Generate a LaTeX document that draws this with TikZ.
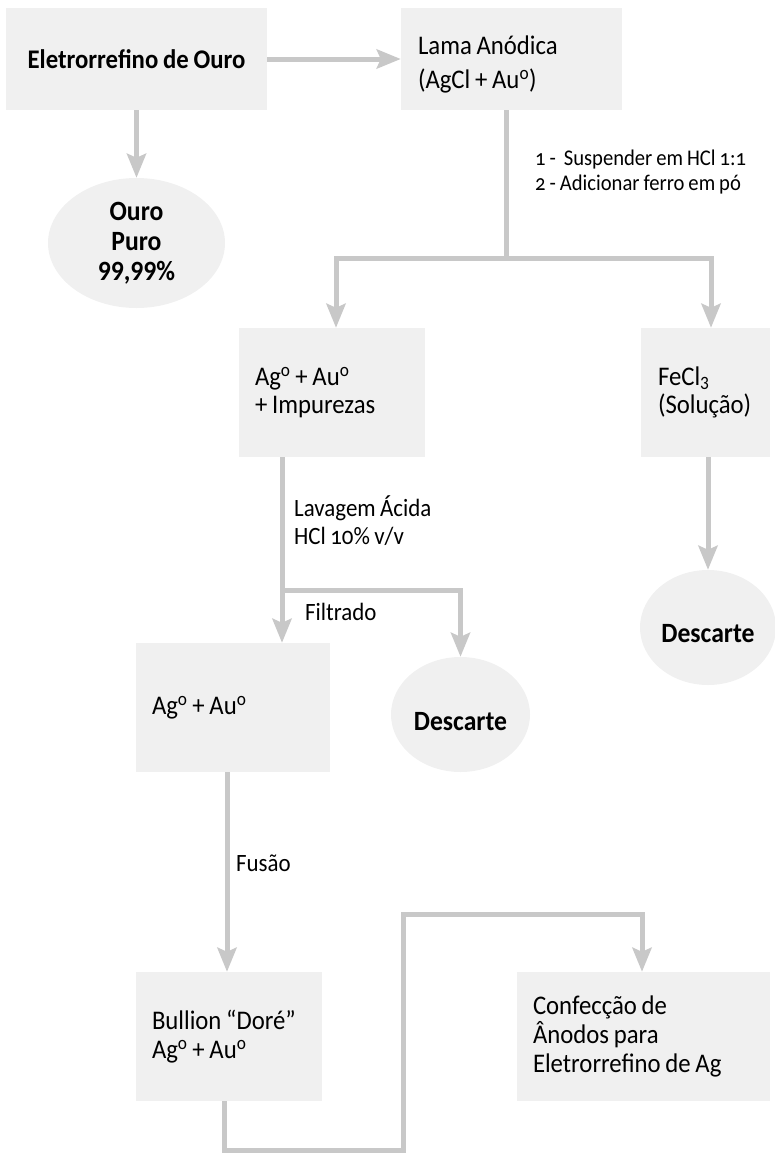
\documentclass[tikz,border=0pt]{standalone}
\usepackage{fontspec}
\setmainfont{Carlito}[FakeStretch=0.92, WordSpace=0.85]
\usetikzlibrary{arrows.meta,shapes.geometric}
\definecolor{boxfill}{HTML}{F0F0F0}
\definecolor{linegray}{HTML}{C8C8C8}
\lineskiplimit=-20pt
\begin{document}
\begin{tikzpicture}[x=1bp,y=-1bp,
  box/.style={fill=boxfill, draw=none, inner xsep=16bp, inner ysep=0pt, align=flush left,
    minimum height=129bp, font=\fontsize{27}{28.5}\selectfont},
  oval/.style={ellipse, fill=boxfill, draw=none, inner sep=0pt, align=flush center,
    font=\bfseries\fontsize{28}{30}\selectfont},
  lab/.style={anchor=west, inner sep=0pt, align=flush left,
    font=\fontsize{25}{28}\selectfont\addfontfeatures{Numbers=OldStyle}},
  conn/.style={draw=linegray, line width=5bp},
  arr/.style={conn, -{Stealth[length=24bp, width=19bp, inset=4bp]}}]
\useasboundingbox (0,0) rectangle (775,1154);

% boxes
\node[box, align=flush center, text width=229bp, minimum height=102bp,
  font=\bfseries\fontsize{27}{28}\selectfont] (b1) at (136.5,59) {Eletrorrefino de Ouro};
\node[box, text width=187bp, inner xsep=17bp, minimum height=102bp,
  font=\fontsize{27}{34}\selectfont] (b2) at (511.5,59) {\rule{0pt}{30bp}Lama Anódica\\(AgCl + Au\textsuperscript{o})};
\node[box, text width=154bp] (b3) at (332,392.5) {Ag\textsuperscript{o} + Au\textsuperscript{o}\\+ Impurezas};
\node[box, text width=95bp, inner xsep=17bp] (fe) at (705.5,392.5) {FeCl\textsubscript{3}\\(Solução)};
\node[box, text width=162bp] (b4) at (233,707.5) {Ag\textsuperscript{o} + Au\textsuperscript{o}};
\node[box, text width=154bp] (b5) at (229,1036.5) {Bullion “Doré”\\Ag\textsuperscript{o} + Au\textsuperscript{o}};
\node[box, text width=221bp, font=\fontsize{27}{29.5}\selectfont] (b6) at (643.5,1036.5) {Confecção de\\Ânodos para\\Eletrorrefino de Ag};

% ovals
\node[oval, minimum width=177bp, minimum height=130bp] (e1) at (136.5,243) {Ouro\\Puro\\99,99\%};
\node[oval, minimum width=139bp, minimum height=115bp, text height=31bp, text depth=0bp] (d2) at (460.5,714.5) {Descarte};
\node[oval, minimum width=136bp, minimum height=115bp, text height=30bp, text depth=0bp] (d3) at (708,627.5) {Descarte};

% junction coordinates
\coordinate (s1) at (506,258);
\coordinate (s2) at (282,590);
\coordinate (f) at (227,860);
\coordinate (c1) at (224,1150);
\coordinate (c2) at (403,1150);
\coordinate (c3) at (403,914);
\coordinate (c4) at (642,914);

% connectors
\draw[arr] (b1) -- (b2);
\draw[arr] (b1) -- (e1);
\draw[conn] (b2.south -| s1) -- (s1);
\draw[arr] (s1) -| ([xshift=4bp]b3.north);
\draw[arr] (s1) -| ([xshift=5.5bp]fe.north);
\draw[arr] (fe.south -| d3) -- (d3);
\draw[arr] (b3.south -| s2) -- (b4.north -| s2);
\draw[arr] (s2) -| (d2);
\draw[arr] (b4.south -| f) -- (b5.north -| f);
\draw[arr] (b5.south -| c1) -- (c1) -- (c2) -- (c3) -- (c4) -- (b6.north -| c4);

% labels
\node[lab, font=\fontsize{22.5}{25}\selectfont\addfontfeatures{Numbers=OldStyle}] (l1) at (535,172) {1 -\ \ Suspender em HCl 1:1\\2 - Adicionar ferro em pó};
\node[lab] (l2) at (294,521) {Lavagem Ácida\\HCl 10\% v/v};
\node[lab] (l3) at (305,612) {Filtrado};
\node[lab] (l4) at (236,863) {Fusão};
\end{tikzpicture}
\end{document}
